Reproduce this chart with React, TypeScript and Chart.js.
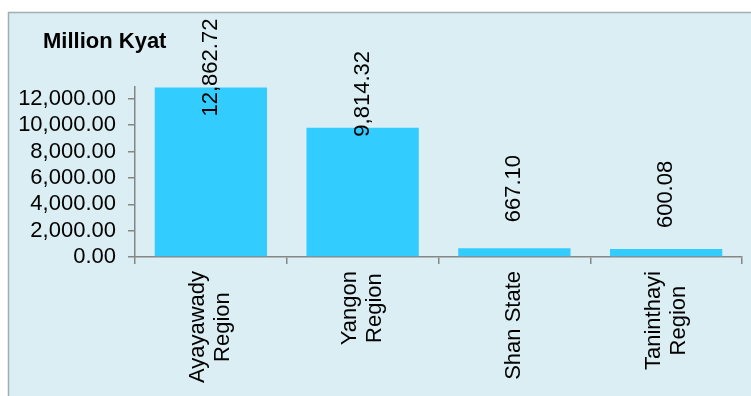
import React, { useEffect, useRef } from "react";
import { Chart, registerables } from "chart.js";

Chart.register(...registerables);

const categories: string[][] = [
  ["Ayayawady", "Region"],
  ["Yangon", "Region"],
  ["Shan State"],
  ["Taninthayi", "Region"],
];
const values: number[] = [12862.72, 9814.32, 667.1, 600.08];
const yTickValues: number[] = [0, 2000, 4000, 6000, 8000, 10000, 12000];
const unitLabel = "Million Kyat";

const FONT = "'Liberation Sans', Arial, Helvetica, sans-serif";
const fmt = (v: number) =>
  v.toLocaleString("en-US", { minimumFractionDigits: 2, maximumFractionDigits: 2 });

const decorPlugin = {
  id: "decor",
  beforeDraw(chart: any) {
    const { ctx, width, height } = chart;
    ctx.save();
    ctx.fillStyle = "#ffffff";
    ctx.fillRect(0, 0, width, height);
    ctx.fillStyle = "#DAEEF3";
    ctx.fillRect(8, 12, width - 8, height - 12);
    ctx.strokeStyle = "#A3AEB4";
    ctx.lineWidth = 1.5;
    ctx.beginPath();
    ctx.moveTo(8.5, height);
    ctx.lineTo(8.5, 12.5);
    ctx.lineTo(width, 12.5);
    ctx.stroke();
    ctx.fillStyle = "#000000";
    ctx.font = `bold 22px ${FONT}`;
    ctx.textAlign = "left";
    ctx.textBaseline = "alphabetic";
    ctx.fillText(unitLabel, 43, 48);
    ctx.restore();
  },
  afterDraw(chart: any, _args: any, opts: any) {
    const { ctx } = chart;
    const xScale = chart.scales.x;
    ctx.save();
    ctx.fillStyle = "#000000";
    ctx.font = `22px ${FONT}`;
    categories.forEach((lines, i) => {
      const x = xScale.getPixelForValue(i);
      const L = Math.max(...lines.map((l) => ctx.measureText(l).width));
      const yTop = xScale.top + 14;
      ctx.save();
      ctx.translate(x, yTop + L / 2);
      ctx.rotate(-Math.PI / 2);
      ctx.textAlign = "center";
      ctx.textBaseline = "middle";
      lines.forEach((line, j) => {
        ctx.fillText(line, 0, (j - (lines.length - 1) / 2) * 25);
      });
      ctx.restore();
    });
    const meta = chart.getDatasetMeta(0);
    const offsets: number[] = opts.offsets || [];
    meta.data.forEach((el: any, i: number) => {
      const x = el.x;
      const bottom = el.y + (offsets[i] || 0);
      ctx.save();
      ctx.translate(x, bottom);
      ctx.rotate(-Math.PI / 2);
      ctx.textAlign = "left";
      ctx.textBaseline = "middle";
      ctx.fillText(fmt(values[i]), 0, 0);
      ctx.restore();
    });
    ctx.restore();
  },
};

export default function App() {
  const canvasRef = useRef<HTMLCanvasElement | null>(null);

  useEffect(() => {
    document.body.style.margin = "0";
    const canvas = canvasRef.current;
    if (!canvas) return;
    const axisColor = "#868686";
    const chart = new Chart(canvas, {
      type: "bar",
      data: {
        labels: categories.map((c) => c.join(" ")),
        datasets: [
          {
            data: values,
            backgroundColor: "#33CCFF",
            borderWidth: 0,
            barPercentage: 0.74,
            categoryPercentage: 1,
          },
        ],
      },
      options: {
        animation: false,
        responsive: true,
        maintainAspectRatio: false,
        layout: { padding: { top: 87, right: 9, left: 0, bottom: 0 } },
        plugins: {
          legend: { display: false },
          tooltip: { enabled: false },
          title: { display: false },
          decor: { offsets: [29, 9, -26, -21] },
        } as any,
        scales: {
          x: {
            type: "category",
            offset: true,
            grid: {
              display: true,
              offset: true,
              drawOnChartArea: false,
              drawTicks: true,
              tickLength: 7,
              color: axisColor,
              lineWidth: 1.5,
            },
            border: { display: true, color: axisColor, width: 1.5 },
            ticks: { display: false },
            afterFit: (scale: any) => {
              scale.height = 139;
            },
          },
          y: {
            type: "linear",
            min: 0,
            max: 12900,
            afterBuildTicks: (scale: any) => {
              scale.ticks = yTickValues.map((v) => ({ value: v }));
            },
            grid: {
              display: true,
              drawOnChartArea: false,
              drawTicks: true,
              tickLength: 7,
              color: axisColor,
              lineWidth: 1.5,
            },
            border: { display: true, color: axisColor, width: 1.5 },
            ticks: {
              color: "#000000",
              padding: 12,
              autoSkip: false,
              font: { family: FONT, size: 22 },
              callback: (v: any) => fmt(Number(v)),
            },
            afterFit: (scale: any) => {
              scale.width = 135;
            },
          },
        },
      },
      plugins: [decorPlugin],
    });
    return () => chart.destroy();
  }, []);

  return (
    <div style={{ position: "relative", width: 751, height: 396 }}>
      <canvas ref={canvasRef} />
    </div>
  );
}
